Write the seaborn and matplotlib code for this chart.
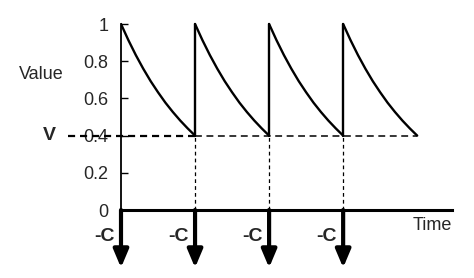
import matplotlib
matplotlib.use("Agg")
import matplotlib.pyplot as plt
import seaborn as sns
import pandas as pd
import numpy as np

sns.set_theme(style="white")
plt.rcParams['font.family'] = ['Liberation Sans', 'DejaVu Sans']

# ---- data ----
reset_times = [0, 1, 2, 3]            # times where value jumps to 1 and an impulse -C occurs
cycle_end = 4
threshold_v = 0.4
# decay profile within one period (fraction of period -> value)
profile_t = [0.0, 0.1, 0.2, 0.3, 0.4, 0.5, 0.6, 0.7, 0.8, 0.9, 1.0]
profile_v = [1.0, 0.913, 0.833, 0.76, 0.693, 0.633, 0.577, 0.527, 0.481, 0.439, 0.4]
y_ticks = [0, 0.2, 0.4, 0.6, 0.8, 1]
y_tick_labels = ["0", "0.2", "0.4", "0.6", "0.8", "1"]
impulse_label = "-C"

rows = []
for i, t0 in enumerate(reset_times):
    for pt, pv in zip(profile_t, profile_v):
        rows.append({"time": t0 + pt, "value": pv, "cycle": i})
df = pd.DataFrame(rows)

W, H = 474, 278
fig = plt.figure(figsize=(W / 100, H / 100), dpi=100)
ax = fig.add_axes([121 / W, (H - 271.4) / H, 331 / W, (271.4 - 20.3) / H])
ax.set_xlim(0, 4.47)
ax.set_ylim(-0.33, 1.02)

# decay curves
sns.lineplot(data=df, x="time", y="value", units="cycle", estimator=None,
             color="black", lw=1.7, ax=ax, legend=False)
# vertical jumps
for t0 in reset_times[1:]:
    ax.plot([t0, t0], [threshold_v, 1.0], color="black", lw=1.7)

# threshold dashed line
ax.plot([-0.72, reset_times[1]], [threshold_v, threshold_v], color="black",
        lw=1.6, ls=(0, (3.2, 2.2)), clip_on=False)
ax.plot([reset_times[1], cycle_end], [threshold_v, threshold_v], color="black",
        lw=1.1, ls=(0, (4.5, 3.0)))
# dotted verticals from threshold to zero
for t0 in reset_times[1:]:
    ax.plot([t0, t0], [0, threshold_v], color="black", lw=0.9, ls=(0, (3, 2.5)))

# impulse arrows
for t0 in reset_times:
    ax.annotate("", xy=(t0, -0.31), xytext=(t0, 0), annotation_clip=False,
                arrowprops=dict(arrowstyle="-|>,head_length=0.9,head_width=0.38",
                                lw=3, color="black", shrinkA=0, shrinkB=0))
    ax.text(t0 - 0.09, -0.14, impulse_label, ha="right", va="center",
            fontsize=14, fontweight="bold", clip_on=False)

# axes
for s in ["top", "right"]:
    ax.spines[s].set_visible(False)
ax.spines["left"].set_bounds(0, 1)
ax.spines["left"].set_linewidth(1.3)
ax.spines["left"].set_color("black")
ax.spines["bottom"].set_position(("data", 0))
ax.spines["bottom"].set_linewidth(2.2)
ax.spines["bottom"].set_color("black")
ax.set_xticks([])
ax.set_yticks(y_ticks)
ax.set_yticklabels(y_tick_labels)
ax.tick_params(axis="y", direction="in", length=5, width=1.0, color="black",
               labelsize=13, pad=9, left=True)
ax.set_xlabel("")
ax.set_ylabel("")

ax.text(-1.07, 0.726, "Value", ha="center", va="center", fontsize=13, clip_on=False)
ax.text(-0.97, threshold_v, "V", ha="center", va="center", fontsize=14,
        fontweight="bold", clip_on=False)
ax.text(4.47, -0.085, "Time", ha="right", va="center", fontsize=13, clip_on=False)

fig.savefig("out.png", dpi=100)
